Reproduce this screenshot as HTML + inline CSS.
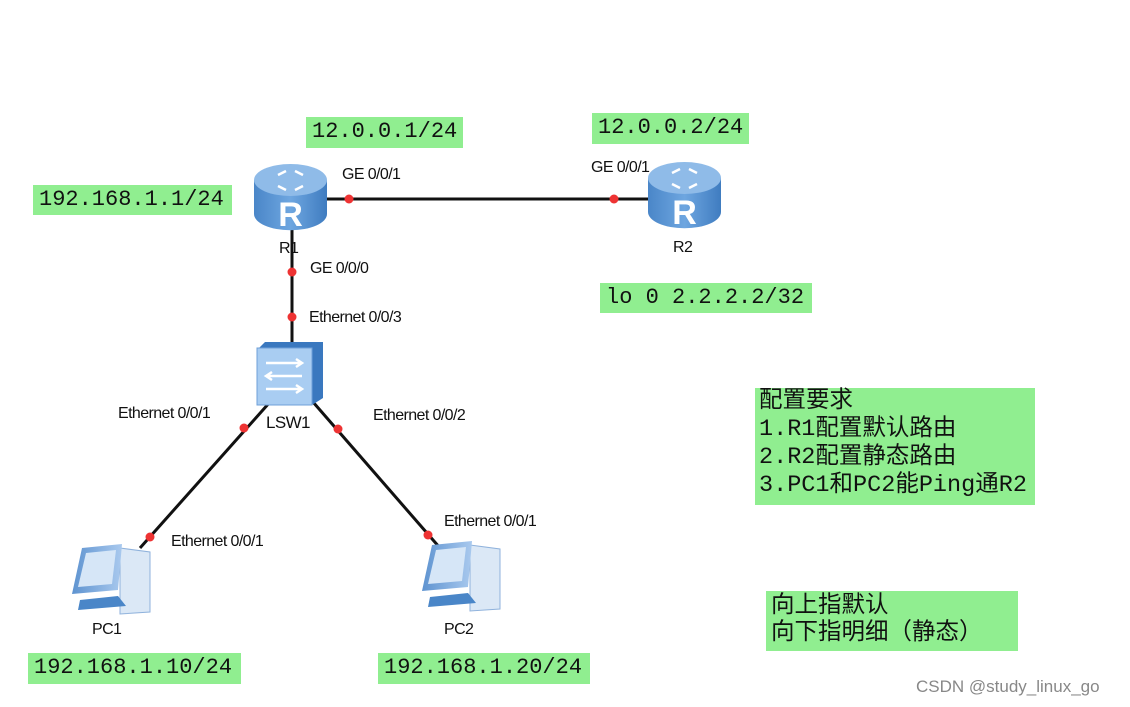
<!DOCTYPE html>
<html><head><meta charset="utf-8"><style>
body{margin:0;width:1130px;height:707px;background:#fff;position:relative;overflow:hidden;font-family:"Liberation Sans",Arial,sans-serif}
.g{position:absolute;background:#90ee90;font-family:"Liberation Mono","Noto Sans CJK SC",monospace;font-size:22px;color:#111;line-height:30px;padding-left:6px;box-sizing:border-box}
.c{font-family:"Liberation Mono","Noto Sans CJK SC",monospace;font-size:23.5px;line-height:28px}
.l{position:absolute;font-size:16px;color:#111;white-space:nowrap;letter-spacing:-0.6px}
</style></head><body>
<svg width="1130" height="707" style="position:absolute;left:0;top:0">
<defs>
<linearGradient id="rb" x1="0" x2="1"><stop offset="0" stop-color="#4a86c8"/><stop offset="0.5" stop-color="#6ea6e0"/><stop offset="1" stop-color="#3f7cc0"/></linearGradient>
<linearGradient id="pc" x1="0" x2="1"><stop offset="0" stop-color="#5e93d0"/><stop offset="1" stop-color="#a9c9ee"/></linearGradient>
</defs>
<g stroke="#111" stroke-width="3" fill="none">
<line x1="326" y1="199" x2="652" y2="199"/>
<line x1="292" y1="228" x2="292" y2="346"/>
<line x1="270" y1="402" x2="140" y2="548"/>
<line x1="313" y1="402" x2="440" y2="548"/>
</g>
<g fill="#ee3333">
<circle cx="349" cy="199" r="4.5"/><circle cx="614" cy="199" r="4.5"/>
<circle cx="292" cy="272" r="4.5"/><circle cx="292" cy="317" r="4.5"/>
<circle cx="244" cy="428" r="4.5"/><circle cx="150" cy="537" r="4.5"/>
<circle cx="338" cy="429" r="4.5"/><circle cx="428" cy="535" r="4.5"/>
</g>
<g id="r">
<path d="M254 180 L254 214 A36 16 0 0 0 327 214 L327 180 Z" fill="url(#rb)"/>
<ellipse cx="290.5" cy="180" rx="36.5" ry="16" fill="#8fbbe8"/>
<text x="290.5" y="226" font-family="Liberation Sans" font-weight="bold" font-size="34" fill="#fff" text-anchor="middle">R</text>
<path d="M278 175 l8 -4 M303 175 l-8 -4 M278 186 l8 4 M303 186 l-8 4" stroke="#fff" stroke-width="2.5"/>
</g>
<use href="#r" x="394" y="-2"/>
<g>
<path d="M257 350 L265 342 L323 342 L323 398 L312 405 Z" fill="#3a78bf"/>
<rect x="257" y="348" width="55" height="57" fill="#a9cdf2" stroke="#6fa0d8"/>
<path d="M266 363 h36 m-6 -4 l6 4 l-6 4 M302 376 h-36 m6 -4 l-6 4 l6 4 M266 389 h36 m-6 -4 l6 4 l-6 4" stroke="#fff" stroke-width="2.5" fill="none"/>
</g>
<g id="p">
<path d="M120 548 L150 552 L150 612 L120 614 Z" fill="#dbe8f6" stroke="#8fb2dc"/>
<path d="M82 548 L122 544 L118 590 L72 594 Z" fill="url(#pc)"/>
<path d="M86 553 L116 550 L112 584 L78 587 Z" fill="#d6e6f7"/>
<path d="M80 600 L118 596 L126 606 L78 610 Z" fill="#4a86c8"/>
</g>
<use href="#p" x="350" y="-3"/>
</svg>
<div class="g" style="left:306px;top:117px;width:157px;height:31px">12.0.0.1/24</div>
<div class="g" style="left:592px;top:113px;width:157px;height:31px">12.0.0.2/24</div>
<div class="g" style="left:33px;top:185px;width:199px;height:30px">192.168.1.1/24</div>
<div class="g" style="left:600px;top:283px;width:212px;height:30px">lo 0 2.2.2.2/32</div>
<div class="g" style="left:28px;top:653px;width:213px;height:31px">192.168.1.10/24</div>
<div class="g" style="left:378px;top:653px;width:212px;height:31px">192.168.1.20/24</div>
<div class="g c" style="left:755px;top:388px;width:280px;height:117px;padding-left:4px;line-height:28px;padding-top:0">配置要求<br>1.R1配置默认路由<br>2.R2配置静态路由<br>3.PC1和PC2能Ping通R2</div>
<div class="g c" style="left:766px;top:591px;width:252px;height:60px;padding-left:5px;line-height:27px;padding-top:2px">向上指默认<br>向下指明细（静态）</div>
<div class="l" style="left:342px;top:166px">GE 0/0/1</div>
<div class="l" style="left:591px;top:159px">GE 0/0/1</div>
<div class="l" style="left:279px;top:240px">R1</div>
<div class="l" style="left:673px;top:239px">R2</div>
<div class="l" style="left:310px;top:260px">GE 0/0/0</div>
<div class="l" style="left:309px;top:309px">Ethernet 0/0/3</div>
<div class="l" style="left:118px;top:405px">Ethernet 0/0/1</div>
<div class="l" style="left:373px;top:407px">Ethernet 0/0/2</div>
<div class="l" style="left:266px;top:413px;font-size:17px">LSW1</div>
<div class="l" style="left:171px;top:533px">Ethernet 0/0/1</div>
<div class="l" style="left:444px;top:513px">Ethernet 0/0/1</div>
<div class="l" style="left:92px;top:621px">PC1</div>
<div class="l" style="left:444px;top:621px">PC2</div>
<div class="l" style="left:916px;top:677px;font-size:17px;color:#888;letter-spacing:0">CSDN @study_linux_go</div>
</body></html>
